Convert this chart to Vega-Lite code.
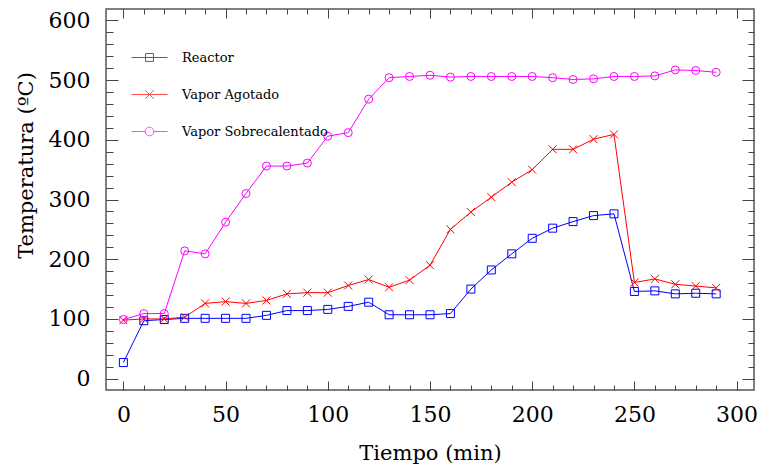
{
  "$schema": "https://vega.github.io/schema/vega-lite/v6.json",
  "width": 648,
  "height": 381,
  "autosize": {"type": "none"},
  "padding": {"left": 106, "top": 9, "right": 7, "bottom": 80},
  "background": "white",
  "config": {
    "view": {"stroke": "#555555", "strokeWidth": 1.5},
    "axis": {"grid": false, "domain": false, "labelFont": "DejaVu Serif", "titleFont": "DejaVu Serif", "tickColor": "#444444", "tickWidth": 1, "labelColor": "black", "titleColor": "black", "titleFontWeight": "normal", "labelFlush": false, "labelOverlap": false},
    "legend": {"orient": "none", "legendX": 25, "legendY": 30, "symbolSize": 1296, "symbolStrokeWidth": 1, "labelFont": "DejaVu Serif", "labelFontSize": 13, "labelColor": "black", "labelOffset": 14, "rowPadding": 11, "padding": 0, "labelLimit": 400}
  },
  "data": {
    "values": [
      {"t": 0, "serie": "Reactor", "temp": 27}, {"t": 10, "serie": "Reactor", "temp": 97}, {"t": 20, "serie": "Reactor", "temp": 99}, {"t": 30, "serie": "Reactor", "temp": 101}, {"t": 40, "serie": "Reactor", "temp": 101}, {"t": 50, "serie": "Reactor", "temp": 101}, {"t": 60, "serie": "Reactor", "temp": 101}, {"t": 70, "serie": "Reactor", "temp": 106}, {"t": 80, "serie": "Reactor", "temp": 114}, {"t": 90, "serie": "Reactor", "temp": 114}, {"t": 100, "serie": "Reactor", "temp": 116}, {"t": 110, "serie": "Reactor", "temp": 121}, {"t": 120, "serie": "Reactor", "temp": 128}, {"t": 130, "serie": "Reactor", "temp": 107}, {"t": 140, "serie": "Reactor", "temp": 107}, {"t": 150, "serie": "Reactor", "temp": 107}, {"t": 160, "serie": "Reactor", "temp": 109}, {"t": 170, "serie": "Reactor", "temp": 150}, {"t": 180, "serie": "Reactor", "temp": 182}, {"t": 190, "serie": "Reactor", "temp": 209}, {"t": 200, "serie": "Reactor", "temp": 235}, {"t": 210, "serie": "Reactor", "temp": 252}, {"t": 220, "serie": "Reactor", "temp": 263}, {"t": 230, "serie": "Reactor", "temp": 273}, {"t": 240, "serie": "Reactor", "temp": 276}, {"t": 250, "serie": "Reactor", "temp": 146}, {"t": 260, "serie": "Reactor", "temp": 147}, {"t": 270, "serie": "Reactor", "temp": 142}, {"t": 280, "serie": "Reactor", "temp": 143}, {"t": 290, "serie": "Reactor", "temp": 142},
      {"t": 0, "serie": "Vapor Agotado", "temp": 98}, {"t": 10, "serie": "Vapor Agotado", "temp": 100}, {"t": 20, "serie": "Vapor Agotado", "temp": 100}, {"t": 30, "serie": "Vapor Agotado", "temp": 103}, {"t": 40, "serie": "Vapor Agotado", "temp": 126}, {"t": 50, "serie": "Vapor Agotado", "temp": 129}, {"t": 60, "serie": "Vapor Agotado", "temp": 126}, {"t": 70, "serie": "Vapor Agotado", "temp": 131}, {"t": 80, "serie": "Vapor Agotado", "temp": 142}, {"t": 90, "serie": "Vapor Agotado", "temp": 144}, {"t": 100, "serie": "Vapor Agotado", "temp": 144}, {"t": 110, "serie": "Vapor Agotado", "temp": 156}, {"t": 120, "serie": "Vapor Agotado", "temp": 166}, {"t": 130, "serie": "Vapor Agotado", "temp": 153}, {"t": 140, "serie": "Vapor Agotado", "temp": 165}, {"t": 150, "serie": "Vapor Agotado", "temp": 190}, {"t": 160, "serie": "Vapor Agotado", "temp": 250}, {"t": 170, "serie": "Vapor Agotado", "temp": 279}, {"t": 180, "serie": "Vapor Agotado", "temp": 304}, {"t": 190, "serie": "Vapor Agotado", "temp": 329}, {"t": 200, "serie": "Vapor Agotado", "temp": 350}, {"t": 210, "serie": "Vapor Agotado", "temp": 384}, {"t": 220, "serie": "Vapor Agotado", "temp": 384}, {"t": 230, "serie": "Vapor Agotado", "temp": 401}, {"t": 240, "serie": "Vapor Agotado", "temp": 409}, {"t": 250, "serie": "Vapor Agotado", "temp": 161}, {"t": 260, "serie": "Vapor Agotado", "temp": 167}, {"t": 270, "serie": "Vapor Agotado", "temp": 158}, {"t": 280, "serie": "Vapor Agotado", "temp": 155}, {"t": 290, "serie": "Vapor Agotado", "temp": 152},
      {"t": 0, "serie": "Vapor Sobrecalentado", "temp": 99}, {"t": 10, "serie": "Vapor Sobrecalentado", "temp": 109}, {"t": 20, "serie": "Vapor Sobrecalentado", "temp": 109}, {"t": 30, "serie": "Vapor Sobrecalentado", "temp": 214}, {"t": 40, "serie": "Vapor Sobrecalentado", "temp": 209}, {"t": 50, "serie": "Vapor Sobrecalentado", "temp": 262}, {"t": 60, "serie": "Vapor Sobrecalentado", "temp": 310}, {"t": 70, "serie": "Vapor Sobrecalentado", "temp": 356}, {"t": 80, "serie": "Vapor Sobrecalentado", "temp": 356}, {"t": 90, "serie": "Vapor Sobrecalentado", "temp": 361}, {"t": 100, "serie": "Vapor Sobrecalentado", "temp": 406}, {"t": 110, "serie": "Vapor Sobrecalentado", "temp": 412}, {"t": 120, "serie": "Vapor Sobrecalentado", "temp": 468}, {"t": 130, "serie": "Vapor Sobrecalentado", "temp": 504}, {"t": 140, "serie": "Vapor Sobrecalentado", "temp": 506}, {"t": 150, "serie": "Vapor Sobrecalentado", "temp": 508}, {"t": 160, "serie": "Vapor Sobrecalentado", "temp": 505}, {"t": 170, "serie": "Vapor Sobrecalentado", "temp": 506}, {"t": 180, "serie": "Vapor Sobrecalentado", "temp": 506}, {"t": 190, "serie": "Vapor Sobrecalentado", "temp": 506}, {"t": 200, "serie": "Vapor Sobrecalentado", "temp": 506}, {"t": 210, "serie": "Vapor Sobrecalentado", "temp": 504}, {"t": 220, "serie": "Vapor Sobrecalentado", "temp": 501}, {"t": 230, "serie": "Vapor Sobrecalentado", "temp": 502}, {"t": 240, "serie": "Vapor Sobrecalentado", "temp": 506}, {"t": 250, "serie": "Vapor Sobrecalentado", "temp": 506}, {"t": 260, "serie": "Vapor Sobrecalentado", "temp": 507}, {"t": 270, "serie": "Vapor Sobrecalentado", "temp": 517}, {"t": 280, "serie": "Vapor Sobrecalentado", "temp": 516}, {"t": 290, "serie": "Vapor Sobrecalentado", "temp": 513}
    ]
  },
  "layer": [
    {
      "mark": {"type": "line", "strokeWidth": 1},
      "encoding": {
        "x": {"field": "t", "type": "quantitative", "scale": {"domain": [-8.5, 308.5], "nice": false, "zero": false},
          "axis": {"orient": "bottom", "values": [0, 50, 100, 150, 200, 250, 300], "ticks": false, "labelFontSize": 22, "labelPadding": 14, "title": "Tiempo (min)", "titleFontSize": 21, "titleY": 69, "titleBaseline": "alphabetic"}},
        "y": {"field": "temp", "type": "quantitative", "scale": {"domain": [-19, 619], "nice": false, "zero": false},
          "axis": {"orient": "left", "values": [0, 100, 200, 300, 400, 500, 600], "ticks": false, "labelFontSize": 22, "labelPadding": 16, "labelBaseline": "middle", "title": "Temperatura (ºC)", "titleFontSize": 21, "titleX": -74, "titleY": 156, "titleBaseline": "alphabetic"}},
        "color": {"field": "serie", "type": "nominal", "scale": {"domain": ["Reactor", "Vapor Agotado", "Vapor Sobrecalentado"], "range": ["#0000ff", "#ff0000", "#ff00ff"]}, "legend": null}
      }
    },
    {
      "mark": {"type": "point", "filled": false, "strokeWidth": 1, "size": 64, "opacity": 1},
      "encoding": {
        "x": {"field": "t", "type": "quantitative", "scale": {"domain": [-8.5, 308.5], "nice": false, "zero": false},
          "axis": {"orient": "bottom", "values": [0, 50, 100, 150, 200, 250, 300], "labels": false, "tickSize": -9, "title": null}},
        "y": {"field": "temp", "type": "quantitative", "scale": {"domain": [-19, 619], "nice": false, "zero": false},
          "axis": {"orient": "left", "values": [0, 100, 200, 300, 400, 500, 600], "labels": false, "tickSize": -12, "title": null}},
        "color": {"field": "serie", "type": "nominal", "scale": {"domain": ["Reactor", "Vapor Agotado", "Vapor Sobrecalentado"], "range": ["#0000ff", "#ff0000", "#ff00ff"]}, "legend": null},
        "shape": {"field": "serie", "type": "nominal", "scale": {"domain": ["Reactor", "Vapor Agotado", "Vapor Sobrecalentado"], "range": ["square", "M-1,-1L1,1M-1,1L1,-1", "circle"]}, "legend": null}
      }
    },
    {
      "transform": [{"filter": "datum.t < -100"}],
      "mark": {"type": "point", "filled": false, "strokeWidth": 1},
      "encoding": {
        "x": {"field": "t", "type": "quantitative", "scale": {"domain": [-8.5, 308.5], "nice": false, "zero": false},
          "axis": {"orient": "bottom", "values": [0, 10, 20, 30, 40, 50, 60, 70, 80, 90, 100, 110, 120, 130, 140, 150, 160, 170, 180, 190, 200, 210, 220, 230, 240, 250, 260, 270, 280, 290, 300], "labels": false, "tickSize": -5, "title": null}},
        "y": {"field": "temp", "type": "quantitative", "scale": {"domain": [-19, 619], "nice": false, "zero": false},
          "axis": {"orient": "left", "values": [0, 20, 40, 60, 80, 100, 120, 140, 160, 180, 200, 220, 240, 260, 280, 300, 320, 340, 360, 380, 400, 420, 440, 460, 480, 500, 520, 540, 560, 580, 600], "labels": false, "tickSize": -7, "title": null}},
        "color": {"field": "serie", "type": "nominal", "scale": {"domain": ["Reactor", "Vapor Agotado", "Vapor Sobrecalentado"], "range": ["#0000ff", "#ff0000", "#ff00ff"]}, "legend": {"title": null}},
        "shape": {"field": "serie", "type": "nominal", "scale": {"domain": ["Reactor", "Vapor Agotado", "Vapor Sobrecalentado"], "range": ["M-1,0H1M-0.22,-0.22H0.22V0.22H-0.22Z", "M-1,0H1M-0.24,-0.24L0.24,0.24M-0.24,0.24L0.24,-0.24", "M-1,0H-0.24M0.24,0H1M0.24,0A0.24,0.24,0,1,1,-0.24,0A0.24,0.24,0,1,1,0.24,0"]}, "legend": {"title": null}}
      }
    },
    {
      "transform": [{"filter": "datum.t < -100"}],
      "mark": {"type": "point"},
      "encoding": {
        "x": {"field": "t", "type": "quantitative", "scale": {"domain": [-8.5, 308.5], "nice": false, "zero": false},
          "axis": {"orient": "top", "values": [0, 50, 100, 150, 200, 250, 300], "labels": false, "tickSize": -9, "title": null}},
        "y": {"field": "temp", "type": "quantitative", "scale": {"domain": [-19, 619], "nice": false, "zero": false},
          "axis": {"orient": "right", "values": [0, 100, 200, 300, 400, 500, 600], "labels": false, "tickSize": -12, "title": null}}
      }
    },
    {
      "transform": [{"filter": "datum.t < -100"}],
      "mark": {"type": "point"},
      "encoding": {
        "x": {"field": "t", "type": "quantitative", "scale": {"domain": [-8.5, 308.5], "nice": false, "zero": false},
          "axis": {"orient": "top", "values": [0, 10, 20, 30, 40, 50, 60, 70, 80, 90, 100, 110, 120, 130, 140, 150, 160, 170, 180, 190, 200, 210, 220, 230, 240, 250, 260, 270, 280, 290, 300], "labels": false, "tickSize": -5, "title": null}},
        "y": {"field": "temp", "type": "quantitative", "scale": {"domain": [-19, 619], "nice": false, "zero": false},
          "axis": {"orient": "right", "values": [0, 20, 40, 60, 80, 100, 120, 140, 160, 180, 200, 220, 240, 260, 280, 300, 320, 340, 360, 380, 400, 420, 440, 460, 480, 500, 520, 540, 560, 580, 600], "labels": false, "tickSize": -6, "title": null}}
      }
    }
  ],
  "resolve": {"axis": {"x": "independent", "y": "independent"}, "scale": {"shape": "independent", "color": "independent"}}
}
